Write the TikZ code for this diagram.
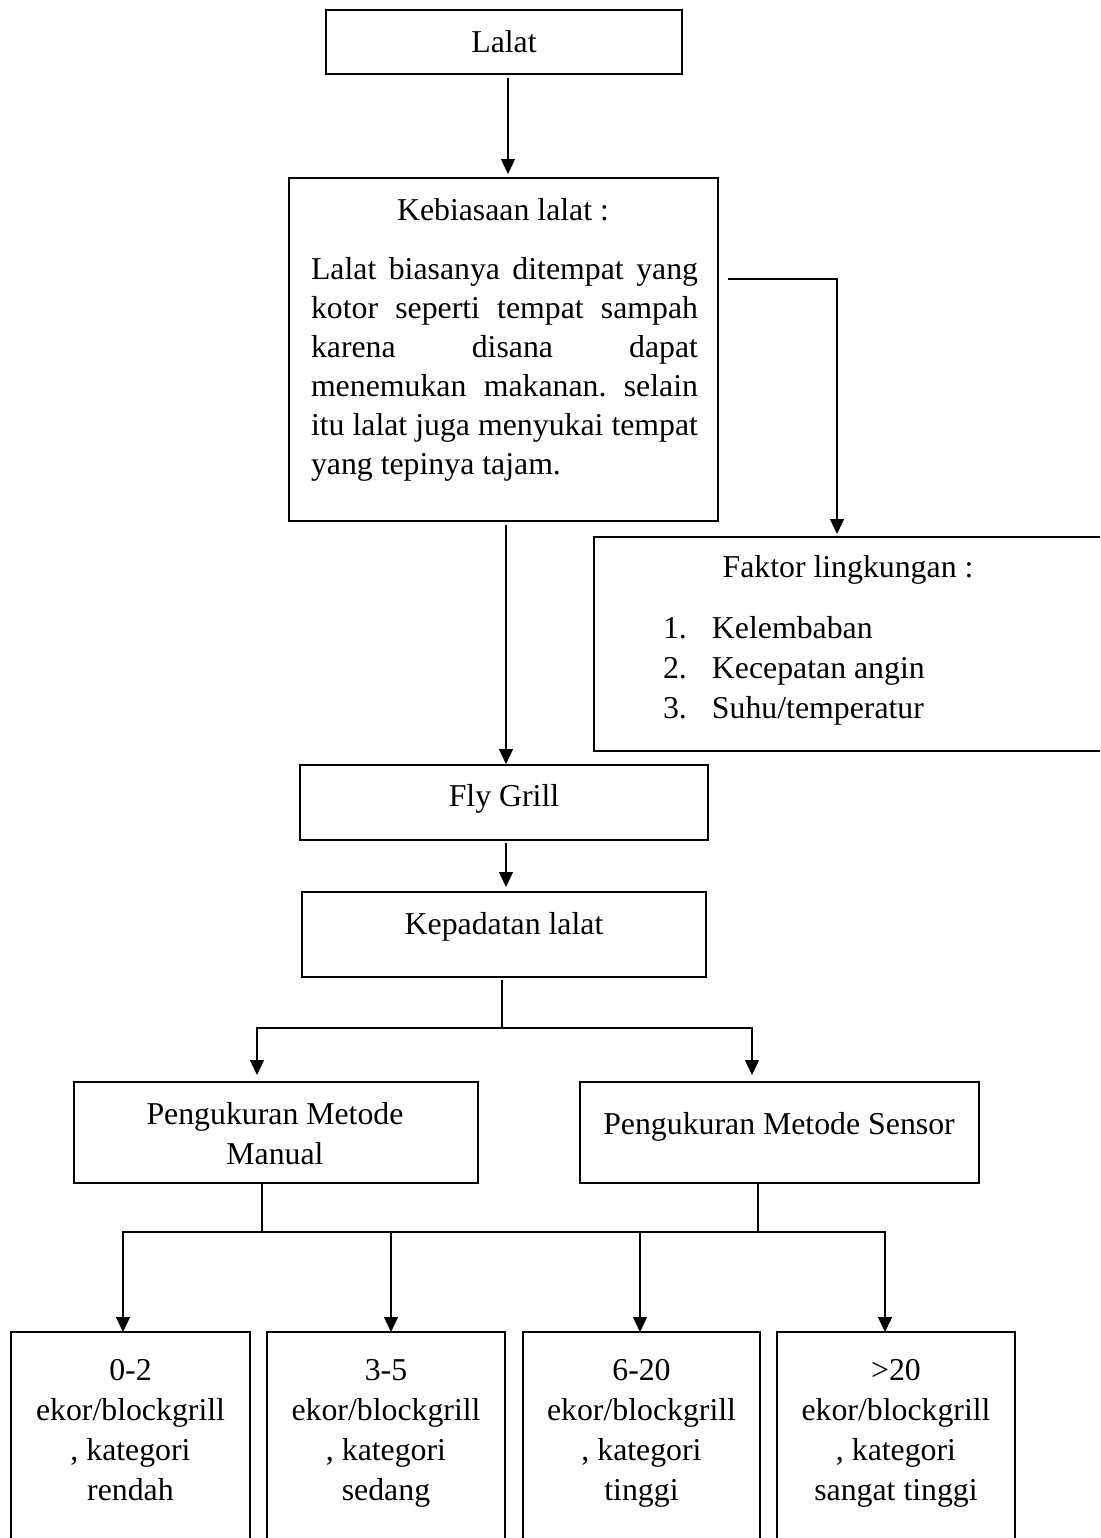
\documentclass[tikz,border=0pt]{standalone}
\usepackage{fontspec}
\setmainfont{Liberation Serif}
\usetikzlibrary{arrows.meta}
\frenchspacing
\newcommand\dfont{\fontsize{15.9pt}{20pt}\selectfont}
\begin{document}
\begin{tikzpicture}[x=0.5pt,y=-0.5pt,
  box/.style={draw, line width=1.4pt, inner sep=0pt, outer sep=0pt},
  conn/.style={line width=0.65pt},
  arr/.style={conn, -{Triangle[length=7.5pt,width=7pt]}},
  txt/.style={inner sep=0pt, outer sep=0pt, anchor=base, font=\dfont}]
\useasboundingbox (0,0) rectangle (1100,1538);
\clip (0,0) rectangle (1100,1538);
\fill[white] (0,0) rectangle (1100,1538);

% boxes
\node[box, minimum width=178pt, minimum height=32pt] (lalat) at (504,42) {};
\node[box, minimum width=214.5pt, minimum height=171.5pt] (keb) at (503.5,349.5) {};
\node[box, minimum width=260.5pt, minimum height=107pt] (faktor) at (854.5,644) {};
\node[box, minimum width=204pt, minimum height=37.5pt] (fly) at (504,802.5) {};
\node[box, minimum width=202pt, minimum height=42.5pt] (kep) at (504,934.5) {};
\node[box, minimum width=202pt, minimum height=50.5pt] (manual) at (276,1132.5) {};
\node[box, minimum width=199.5pt, minimum height=50.5pt] (sensor) at (779.5,1132.5) {};
\node[box, minimum width=119.5pt, minimum height=114pt] (b1) at (130.5,1446) {};
\node[box, minimum width=119pt, minimum height=114pt] (b2) at (386,1446) {};
\node[box, minimum width=118.5pt, minimum height=114pt] (b3) at (641.5,1446) {};
\node[box, minimum width=119pt, minimum height=114pt] (b4) at (896,1446) {};

% texts
\node[txt] (tlalat) at (504,52) {Lalat};
\node[txt] (tkeb) at (503,220) {Kebiasaan lalat :};
\node[txt, anchor=base west] (tkebp) at (311,279) {\parbox[t]{193.5pt}{\baselineskip=19.5pt
  \makebox[\linewidth][s]{Lalat biasanya ditempat yang}\\
  \makebox[\linewidth][s]{kotor seperti tempat sampah}\\
  \makebox[\linewidth][s]{karena disana dapat}\\
  \makebox[\linewidth][s]{menemukan makanan. selain}\\
  \makebox[\linewidth][s]{itu lalat juga menyukai tempat}\\
  yang tepinya tajam.}};
\node[txt] (tfaktor) at (848,577) {Faktor lingkungan :};
\node[txt, anchor=base west] (tlist) at (663,638) {\parbox[t]{160pt}{%
  \makebox[24.5pt][l]{1.}Kelembaban\\
  \makebox[24.5pt][l]{2.}Kecepatan angin\\
  \makebox[24.5pt][l]{3.}Suhu/temperatur}};
\node[txt] (tfly) at (504,806) {Fly Grill};
\node[txt] (tkep) at (504,934) {Kepadatan lalat};
\node[txt] (tman) at (275,1124) {\parbox[t]{190pt}{\centering Pengukuran Metode\\ Manual}};
\node[txt] (tsen) at (779,1134) {Pengukuran Metode Sensor};
\node[txt] (tb1) at (130.5,1380) {\parbox[t]{115pt}{\centering 0-2\\ ekor/blockgrill\\ , kategori\\ rendah}};
\node[txt] (tb2) at (386,1380) {\parbox[t]{115pt}{\centering 3-5\\ ekor/blockgrill\\ , kategori\\ sedang}};
\node[txt] (tb3) at (641.5,1380) {\parbox[t]{115pt}{\centering 6-20\\ ekor/blockgrill\\ , kategori\\ tinggi}};
\node[txt] (tb4) at (896,1380) {\parbox[t]{115pt}{\centering >20\\ ekor/blockgrill\\ , kategori\\ sangat tinggi}};

% connectors
\draw[arr, shorten <=2pt, shorten >=2pt] ([xshift=2pt]lalat.south) -- ([xshift=2pt]lalat.south |- keb.north);
\draw[arr, shorten <=2.5pt, shorten >=1.5pt] ([xshift=2.5pt,yshift=35.25pt]keb.east) -| ([xshift=-8.75pt]faktor.north);
\draw[arr, shorten <=2pt, shorten >=0.5pt] ([xshift=1.25pt]keb.south) -- ([xshift=1.25pt]keb.south |- fly.north);
\draw[arr, shorten <=1.5pt, shorten >=2.5pt] ([xshift=1pt]fly.south) -- ([xshift=1pt]fly.south |- kep.north);

\coordinate (j1) at (502,1028);
\draw[conn, shorten <=1.5pt] ([xshift=-1pt]kep.south) -- (j1);
\draw[arr, shorten >=3.5pt] (j1) -| ([xshift=-9.5pt]manual.north);
\draw[arr, shorten >=3.5pt] (j1) -| ([xshift=-13.75pt]sensor.north);

\coordinate (j2) at (262,1232);
\coordinate (j3) at (758,1232);
\draw[conn] ([xshift=-7pt]manual.south) -- (j2);
\draw[conn] ([xshift=-10.75pt]sensor.south) -- (j3);
\draw[conn] (j2) -- (j3);
\draw[arr] (j2) -| ([xshift=-3.75pt]b1.north);
\draw[arr] (j2) -| ([xshift=2.5pt]b2.north);
\draw[arr] (j3) -| ([xshift=-0.75pt]b3.north);
\draw[arr] (j3) -| ([xshift=-5.5pt]b4.north);
\end{tikzpicture}
\end{document}
